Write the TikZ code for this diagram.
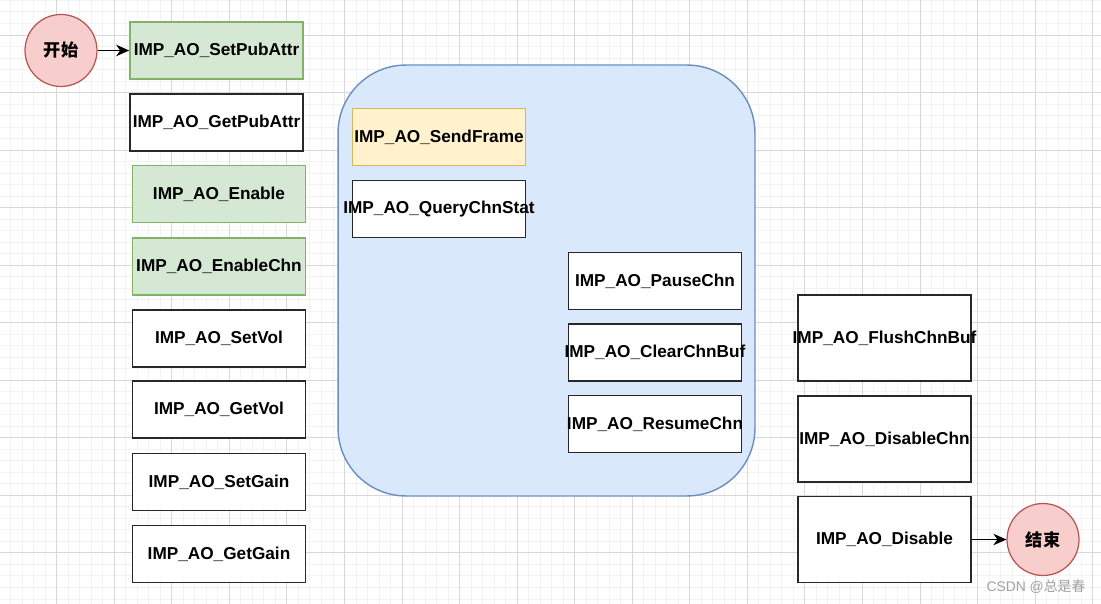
\documentclass[tikz,border=0pt]{standalone}
\usepackage{fontspec}
\setmainfont{Liberation Sans}
\newfontfamily\cjk{Noto Sans CJK SC}
\usetikzlibrary{arrows.meta}

\definecolor{gridminor}{RGB}{243,243,243}
\definecolor{gridmajor}{RGB}{216,216,216}
\definecolor{boxline}{RGB}{40,40,40}
\definecolor{greenfill}{HTML}{D5E8D4}
\definecolor{greenline}{HTML}{82B366}
\definecolor{yellowfill}{HTML}{FFF2CC}
\definecolor{yellowline}{HTML}{D6B656}
\definecolor{bluefill}{HTML}{DAE8FC}
\definecolor{blueline}{HTML}{6C8EBF}
\definecolor{redfill}{HTML}{F8CECC}
\definecolor{redline}{HTML}{B85450}

% label that may run over the edge of its box
\newcommand{\fname}[1]{\makebox[0pt]{\bfseries #1}}

\begin{document}
\begin{tikzpicture}[x=0.02cm,y=-0.02cm,
    fn/.style={draw=boxline,line width=1pt,fill=white,minimum width=3.46cm,
        minimum height=1.14cm,inner sep=0pt,font=\fontsize{9.8}{12}\selectfont},
    fnon/.style={fn,draw=greenline,fill=greenfill},
    fnsend/.style={fn,draw=yellowline,fill=yellowfill},
    fntall/.style={fn,minimum height=1.72cm},
    term/.style={circle,draw=redline,fill=redfill,line width=0.7pt,minimum size=1.44cm,
        inner sep=0pt,font=\cjk\bfseries\fontsize{9.8}{12}\selectfont},
    flow/.style={-{Stealth[length=2.6mm,width=2.3mm,inset=0.8mm]},line width=1pt}]
\useasboundingbox (0,0) rectangle (1101,604);
\fill[white] (0,0) rectangle (1101,604);

% grid
\foreach \i in {0,...,96}
    \draw[gridminor,line width=0.55pt] ({-0.8+11.51*\i},0) -- ({-0.8+11.51*\i},604);
\foreach \j in {0,...,52}
    \draw[gridminor,line width=0.55pt] (0,{0.47+11.51*\j}) -- (1101,{0.47+11.51*\j});
\foreach \i in {1,...,19}
    \draw[gridmajor,line width=0.55pt] ({-0.8+57.55*\i},0) -- ({-0.8+57.55*\i},604);
\foreach \j in {1,...,10}
    \draw[gridmajor,line width=0.55pt] (0,{-22.55+57.55*\j}) -- (1101,{-22.55+57.55*\j});

% start and left column
\node[term] (start) at (61,50.5) {开始};
\node[fnon] (setpub) at (216.5,50.5) {\fname{IMP\_AO\_SetPubAttr}};
\node[fn] (getpub) at (216.5,122.5) {\fname{IMP\_AO\_GetPubAttr}};
\node[fnon] (enable) at (219,194) {\fname{IMP\_AO\_Enable}};
\node[fnon] (enablechn) at (219,266.5) {\fname{IMP\_AO\_EnableChn}};
\node[fn] (setvol) at (219,338.5) {\fname{IMP\_AO\_SetVol}};
\node[fn] (getvol) at (219,409.5) {\fname{IMP\_AO\_GetVol}};
\node[fn] (setgain) at (219,482) {\fname{IMP\_AO\_SetGain}};
\node[fn] (getgain) at (219,554) {\fname{IMP\_AO\_GetGain}};

% playing loop
\node[draw=blueline,fill=bluefill,line width=0.8pt,rounded corners=1.36cm,
    minimum width=8.34cm,minimum height=8.62cm] (play) at (546.5,280.5) {};
\node[fnsend] (sendframe) at (439,137) {\fname{IMP\_AO\_SendFrame}};
\node[fn] (querychn) at (439,209) {\fname{IMP\_AO\_QueryChnStat}};
\node[fn] (pause) at (655,281) {\fname{IMP\_AO\_PauseChn}};
\node[fn] (clear) at (655,352.5) {\fname{IMP\_AO\_ClearChnBuf}};
\node[fn] (resume) at (655,424) {\fname{IMP\_AO\_ResumeChn}};

% right column and end
\node[fntall] (flush) at (884.5,338) {\fname{IMP\_AO\_FlushChnBuf}};
\node[fntall] (disablechn) at (884.5,439) {\fname{IMP\_AO\_DisableChn}};
\node[fntall] (disable) at (884.5,539.5) {\fname{IMP\_AO\_Disable}};
\node[term] (end) at (1043,539.5) {结束};

\draw[flow] (start) -- (setpub);
\draw[flow] (disable) -- (end);

\node[text={rgb,255:red,160;green,160;blue,160},inner sep=0pt,
    font=\fontsize{7.9}{10}\selectfont] (mark) at (1036,587) {CSDN @{\cjk 总是春}};
\end{tikzpicture}
\end{document}
